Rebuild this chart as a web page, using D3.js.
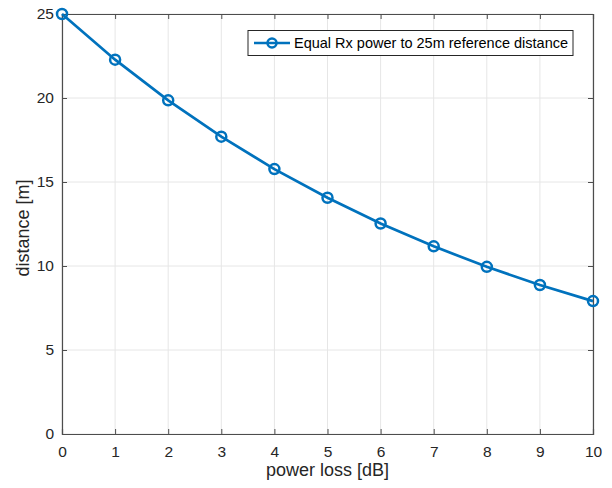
<!DOCTYPE html>
<html><head><meta charset="utf-8">
<script src="https://cdn.jsdelivr.net/npm/d3@7"></script>
<style>body{margin:0;background:#fff}svg{display:block}text{font-family:"Liberation Sans",Arial,sans-serif}</style>
</head><body>
<script>
const powerLoss = [0,1,2,3,4,5,6,7,8,9,10];
const distance = [25,22.28,19.86,17.70,15.77,14.06,12.53,11.17,9.95,8.87,7.91];
const xTicks = [0,1,2,3,4,5,6,7,8,9,10];
const yTicks = [0,5,10,15,20,25];
const seriesName = "Equal Rx power to 25m reference distance";

const W=612,H=488, L=62,R=593,T=14,B=434;
const svg=d3.select("body").append("svg").attr("width",W).attr("height",H);
const x=d3.scaleLinear().domain([0,10]).range([L,R]);
const y=d3.scaleLinear().domain([0,25]).range([B,T]);
const grid="#e6e6e6", axc="#4d4d4d", blue="#0072BD";

const g=svg.append("g");
g.selectAll(".gx").data(xTicks).join("line").attr("x1",d=>x(d)).attr("x2",d=>x(d)).attr("y1",T).attr("y2",B).attr("stroke",grid).attr("stroke-width",1);
g.selectAll(".gy").data(yTicks).join("line").attr("x1",L).attr("x2",R).attr("y1",d=>y(d)).attr("y2",d=>y(d)).attr("stroke",grid).attr("stroke-width",1);

const xa=svg.append("g").attr("transform",`translate(0,${B})`).call(d3.axisBottom(x).tickValues(xTicks).tickSize(-5).tickPadding(12).tickFormat(d3.format("d")));
const xt=svg.append("g").attr("transform",`translate(0,${T})`).call(d3.axisTop(x).tickValues(xTicks).tickSize(-5).tickFormat(""));
const ya=svg.append("g").attr("transform",`translate(${L},0)`).call(d3.axisLeft(y).tickValues(yTicks).tickSize(-5).tickPadding(8).tickFormat(d3.format("d")));
const yr=svg.append("g").attr("transform",`translate(${R},0)`).call(d3.axisRight(y).tickValues(yTicks).tickSize(-5).tickFormat(""));
[xa,xt,ya,yr].forEach(a=>{a.selectAll("path").attr("stroke",axc).attr("stroke-width",1.2);a.selectAll("line").attr("stroke",axc);a.selectAll("text").attr("fill","#262626").attr("font-size",15.5).attr("font-family","'Liberation Sans',Arial,sans-serif");});

const line=d3.line().x((d,i)=>x(powerLoss[i])).y(d=>y(d));
svg.append("path").datum(distance).attr("d",line).attr("fill","none").attr("stroke",blue).attr("stroke-width",2.7);
svg.selectAll(".pt").data(distance).join("circle").attr("cx",(d,i)=>x(powerLoss[i])).attr("cy",d=>y(d)).attr("r",5).attr("fill","none").attr("stroke",blue).attr("stroke-width",2.5);

svg.append("text").attr("x",(L+R)/2).attr("y",476).attr("text-anchor","middle").attr("font-size",18).attr("fill","#262626").text("power loss [dB]");
svg.append("text").attr("transform",`translate(29,228) rotate(-90)`).attr("text-anchor","middle").attr("font-size",18).attr("fill","#262626").text("distance [m]");

const lg=svg.append("g");
lg.append("rect").attr("x",248).attr("y",30.5).attr("width",325).attr("height",25).attr("fill","#fff").attr("stroke","#262626").attr("stroke-width",1);
lg.append("line").attr("x1",254).attr("x2",290).attr("y1",43).attr("y2",43).attr("stroke",blue).attr("stroke-width",2.5);
lg.append("circle").attr("cx",272).attr("cy",43).attr("r",4.5).attr("fill","none").attr("stroke",blue).attr("stroke-width",2.5);
lg.append("text").attr("x",294).attr("y",48).attr("font-size",14.5).attr("fill","#000").text(seriesName);
</script>
</body></html>
